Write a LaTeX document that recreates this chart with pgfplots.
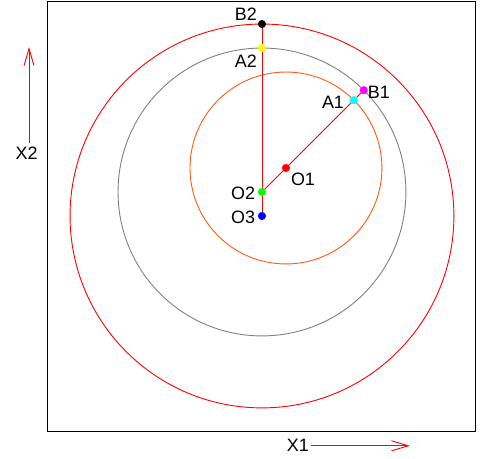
\documentclass[border=0pt]{standalone}
\usepackage{pgfplots}
\pgfplotsset{compat=1.18}
\usepackage{fontspec}
\setmainfont{Liberation Sans}
\usetikzlibrary{arrows.meta}
\definecolor{orng}{RGB}{255,90,20}
\definecolor{grayc}{RGB}{128,128,128}
\definecolor{cyanc}{RGB}{0,255,255}
\definecolor{magc}{RGB}{255,0,255}
\definecolor{yelc}{RGB}{255,255,0}
\definecolor{grnc}{RGB}{0,255,0}
\definecolor{bluc}{RGB}{0,0,255}
\newcommand{\lbl}{\fontsize{18}{21}\selectfont}
\begin{document}
\begin{tikzpicture}
\begin{axis}[x=24bp,y=24bp,xmin=-8.92,xmax=8.88,ymin=-9,ymax=8.94,
  axis line style={line width=1bp,black},ticks=none,clip=false]
\draw[red,line width=0.9bp] (axis cs:0,0) circle[radius=8];
\draw[grayc,line width=0.9bp] (axis cs:0,1) circle[radius=6];
\draw[orng,line width=0.9bp] (axis cs:1,2) circle[radius=4];
\addplot[red,line width=0.9bp] coordinates {(0,0) (0,8)};
\addplot[red,line width=0.9bp] coordinates {(0,1) (4.243,5.243)};
\addplot[only marks,mark=*,mark size=3.8bp,red] coordinates {(1,2)};
\addplot[only marks,mark=*,mark size=3.8bp,color=grnc] coordinates {(0,1)};
\addplot[only marks,mark=*,mark size=3.8bp,color=bluc] coordinates {(0,0)};
\addplot[only marks,mark=*,mark size=3.8bp,color=yelc] coordinates {(0,7)};
\addplot[only marks,mark=*,mark size=3.8bp,color=black] coordinates {(0,8)};
\addplot[only marks,mark=*,mark size=3.8bp,color=cyanc] coordinates {(3.828,4.828)};
\addplot[only marks,mark=*,mark size=3.8bp,color=magc] coordinates {(4.243,5.243)};
\node[font=\lbl] at (axis cs:-0.67,8.4) {B2};
\node[font=\lbl] at (axis cs:-0.67,6.44) {A2};
\node[font=\lbl] at (axis cs:2.96,4.75) {A1};
\node[font=\lbl] at (axis cs:4.875,5.17) {B1};
\node[font=\lbl] at (axis cs:1.71,1.54) {O1};
\node[font=\lbl] at (axis cs:-0.79,0.96) {O2};
\node[font=\lbl] at (axis cs:-0.79,-0.04) {O3};
\draw[red,line width=0.9bp,-{Straight Barb[length=17bp,width=10bp,line width=0.9bp]}] (axis cs:-9.71,3.04) -- (axis cs:-9.71,7.04);
\node[font=\lbl] at (axis cs:-9.81,2.63) {X2};
\draw[red,line width=0.9bp,-{Straight Barb[length=17bp,width=10bp,line width=0.9bp]}] (axis cs:2.04,-9.58) -- (axis cs:6.17,-9.58);
\node[font=\lbl] at (axis cs:1.5,-9.58) {X1};
\end{axis}
\pgfresetboundingbox
\path[use as bounding box] ([xshift=-48bp,yshift=-27bp]current axis.south west) rectangle ([xshift=7bp,yshift=1.5bp]current axis.north east);
\end{tikzpicture}
\end{document}
